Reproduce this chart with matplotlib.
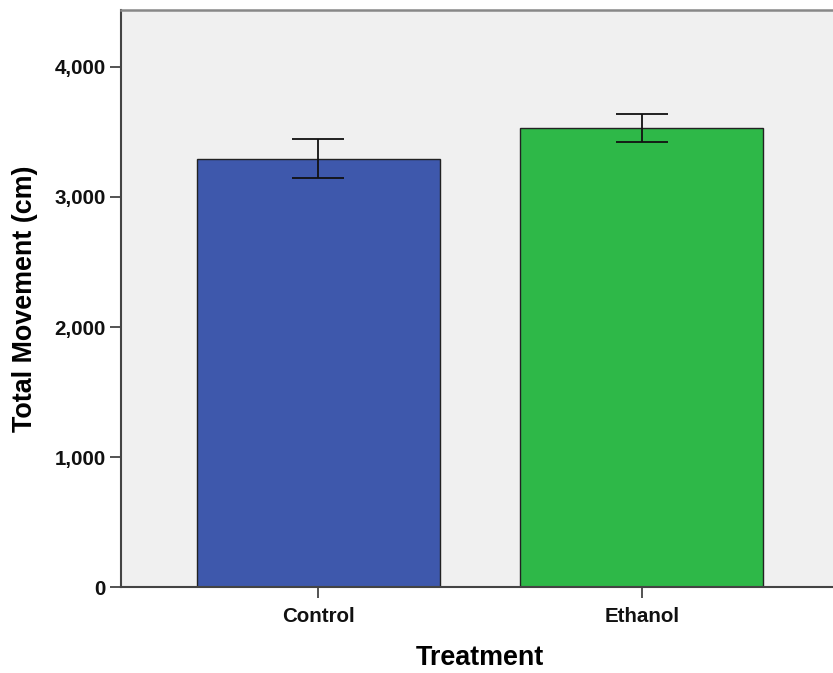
import matplotlib.pyplot as plt
from matplotlib.ticker import FuncFormatter

# values
groups = ['Control', 'Ethanol']
means = [3293, 3531]
err_low = [3145, 3421]
err_high = [3442, 3639]
colors = ['#3E58AC', '#2EB848']

plt.rcParams['font.family'] = ['Liberation Sans', 'DejaVu Sans']

fig = plt.figure(figsize=(8.33, 6.73), dpi=100)
ax = fig.add_axes([121 / 833, 85.7 / 673, 718 / 833, 577.3 / 673])
ax.set_facecolor('#F0F0F0')

x = list(range(len(groups)))
yerr = [[m - lo for m, lo in zip(means, err_low)],
        [hi - m for m, hi in zip(means, err_high)]]
ax.bar(x, means, width=0.75, color=colors, edgecolor='#222222', linewidth=1.0,
       zorder=2)
ax.errorbar(x, means, yerr=yerr, fmt='none', ecolor='#111111', elinewidth=1.3,
            capsize=18.5, capthick=1.3, zorder=3)

ax.set_xlim(-0.61, 1.61)
ax.set_ylim(0, 4436)
ax.set_xticks(x)
ax.set_xticklabels(groups)
ax.set_yticks([0, 1000, 2000, 3000, 4000])
ax.yaxis.set_major_formatter(FuncFormatter(lambda v, p: f'{int(v):,}'))

ax.tick_params(axis='both', labelsize=14.8, length=8, width=1.3,
               color='#444444')
ax.tick_params(axis='x', pad=6)
ax.tick_params(axis='y', pad=3)
for lab in ax.get_xticklabels() + ax.get_yticklabels():
    lab.set_fontweight('bold')
    lab.set_color('#111111')
for side in ['left', 'bottom']:
    ax.spines[side].set_color('#444444')
    ax.spines[side].set_linewidth(1.5)
ax.spines['top'].set_color('#888888')
ax.spines['top'].set_linewidth(1.8)
ax.spines['right'].set_visible(False)

ax.set_xlabel('Treatment', fontsize=19.4, fontweight='bold', labelpad=14)
ax.set_ylabel('Total Movement (cm)', fontsize=19.4, fontweight='bold',
              labelpad=12)

fig.savefig('out.png', dpi=100)
